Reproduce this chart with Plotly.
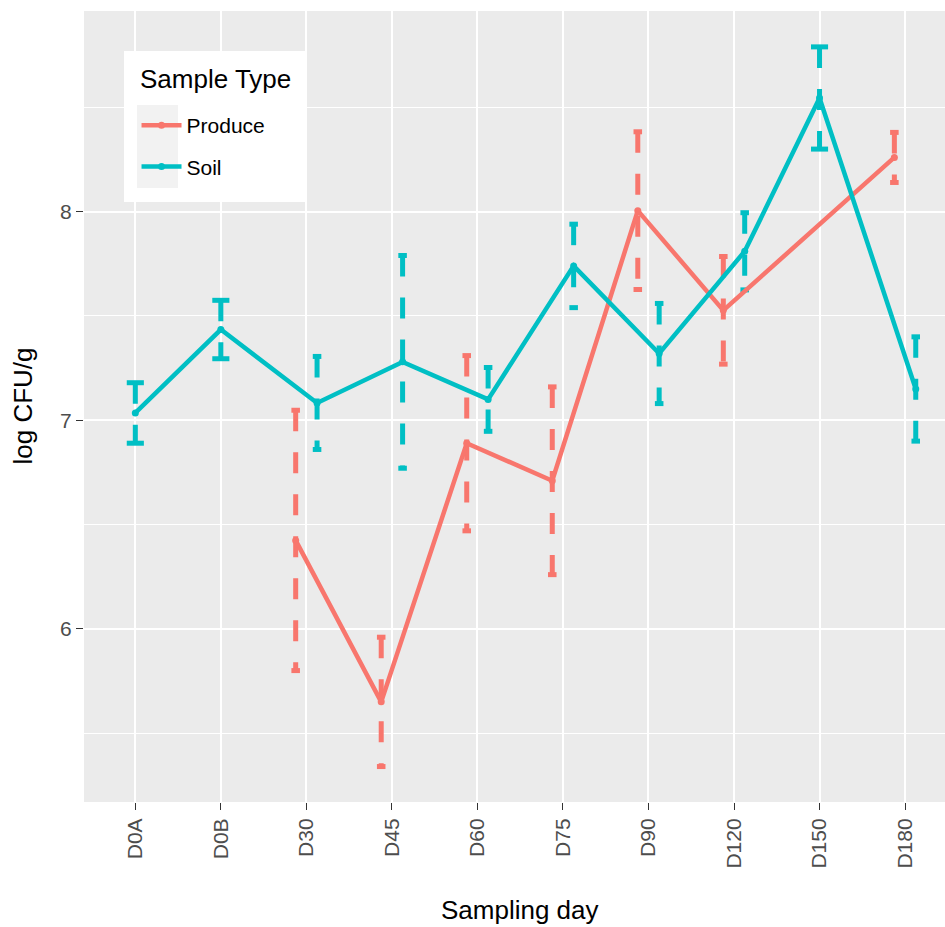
import plotly.graph_objects as go

# Sampling days (categorical x axis)
days = ["D0A", "D0B", "D30", "D45", "D60", "D75", "D90", "D120", "D150", "D180"]

# Mean log CFU/g and standard error per sampling day (None = not sampled)
produce_mean = [None, None, 6.424, 5.65, 6.89, 6.71, 8.005, 7.527, None, 8.26]
produce_se = [None, None, 0.624, 0.31, 0.42, 0.45, 0.378, 0.258, None, 0.12]
soil_mean = [7.035, 7.435, 7.083, 7.28, 7.10, 7.74, 7.32, 7.81, 8.545, 7.15]
soil_se = [0.145, 0.14, 0.223, 0.51, 0.153, 0.2, 0.24, 0.185, 0.245, 0.25]

y_ticks = [6, 7, 8]
y_minor = [5.5, 6.5, 7.5, 8.5]

series = [
    ("Produce", produce_mean, produce_se, "#F8766D"),
    ("Soil", soil_mean, soil_se, "#00BFC4"),
]

DODGE = 0.25      # half of the dodge width
BAR_WIDTH = 0.2   # error-bar cap width before dodging

font_family = "Liberation Sans, Arial, Helvetica, sans-serif"

fig = go.Figure()

# how many series are present at each day (controls dodging)
n_present = [sum(1 for _, m, _, _ in series if m[i] is not None) for i in range(len(days))]
order = {name: k for k, (name, *_rest) in enumerate(series)}


def x_pos(name, i):
    if n_present[i] < 2:
        return float(i), BAR_WIDTH / 2
    off = -DODGE / 2 if order[name] == 0 else DODGE / 2
    return i + off, BAR_WIDTH / 4


# dashed error bars: top cap, stem, bottom cap as separate sub-paths
for name, mean, se, color in series:
    ex, ey = [], []
    for i, (m, s) in enumerate(zip(mean, se)):
        if m is None:
            continue
        x, hw = x_pos(name, i)
        lo, hi = m - s, m + s
        ex += [x - hw, x + hw, None, x, x, None, x - hw, x + hw, None]
        ey += [hi, hi, None, hi, lo, None, lo, lo, None]
    fig.add_trace(go.Scatter(
        x=ex, y=ey, mode="lines", showlegend=False, hoverinfo="skip",
        line=dict(color=color, width=5, dash="21px,21px"),
        connectgaps=False,
    ))

# mean lines with points
for k, (name, mean, se, color) in enumerate(series):
    xs, ys = [], []
    for i, m in enumerate(mean):
        if m is None:
            continue
        x, _ = x_pos(name, i)
        xs.append(x)
        ys.append(m)
    fig.add_trace(go.Scatter(
        x=xs, y=ys, mode="lines+markers", name=name, legendgroup=name,
        line=dict(color=color, width=4.5),
        marker=dict(color=color, size=7),
    ))

# legend box and key background
fig.add_shape(type="rect", xref="paper", yref="paper",
              x0=0.0465, x1=0.259, y0=0.7585, y1=0.9494,
              fillcolor="white", line=dict(width=0), layer="above")
fig.add_shape(type="rect", xref="paper", yref="paper",
              x0=0.0616, x1=0.1092, y0=0.7762, y1=0.8812,
              fillcolor="#F2F2F2", line=dict(width=0), layer="above")

# legend title
fig.add_annotation(text="Sample Type", xref="paper", yref="paper",
                   x=0.0627, y=0.9355, xanchor="left", yanchor="top",
                   showarrow=False, font=dict(size=26, color="black", family=font_family))

# axis titles
fig.add_annotation(text="Sampling day", xref="paper", yref="paper",
                   x=0.5064, y=-0.1365, xanchor="center", yanchor="middle",
                   showarrow=False, font=dict(size=26, color="black", family=font_family))
fig.add_annotation(text="log CFU/g", xref="paper", yref="paper",
                   x=-0.072, y=0.5, xanchor="center", yanchor="middle", textangle=-90,
                   showarrow=False, font=dict(size=26, color="black", family=font_family))

fig.update_layout(
    width=945, height=927,
    margin=dict(l=84, r=0, t=11, b=125),
    paper_bgcolor="white",
    plot_bgcolor="#EBEBEB",
    font=dict(family=font_family, color="black"),
    legend=dict(
        font=dict(size=21),
        x=0.061, xanchor="left", y=0.881, yanchor="top",
        bgcolor="rgba(0,0,0,0)",
        itemwidth=40,
        tracegroupgap=11,
    ),
    xaxis=dict(
        range=[-0.6, 9.467],
        tickmode="array", tickvals=list(range(len(days))), ticktext=days,
        tickangle=-90,
        tickfont=dict(size=21, color="#4D4D4D"),
        ticks="outside", ticklen=7, tickwidth=1.2, tickcolor="#333333",
        showgrid=True, gridcolor="white", gridwidth=2,
        zeroline=False, showline=False,
    ),
    yaxis=dict(
        range=[5.17, 8.962],
        tickmode="array", tickvals=y_ticks, ticktext=[str(t) for t in y_ticks],
        tickfont=dict(size=21, color="#4D4D4D"),
        ticks="outside", ticklen=7, tickwidth=1.2, tickcolor="#333333",
        showgrid=True, gridcolor="white", gridwidth=2,
        minor=dict(tickmode="array", tickvals=y_minor, showgrid=True,
                   gridcolor="white", gridwidth=1, ticks=""),
        zeroline=False, showline=False,
    ),
)

fig.write_html("out.html")
